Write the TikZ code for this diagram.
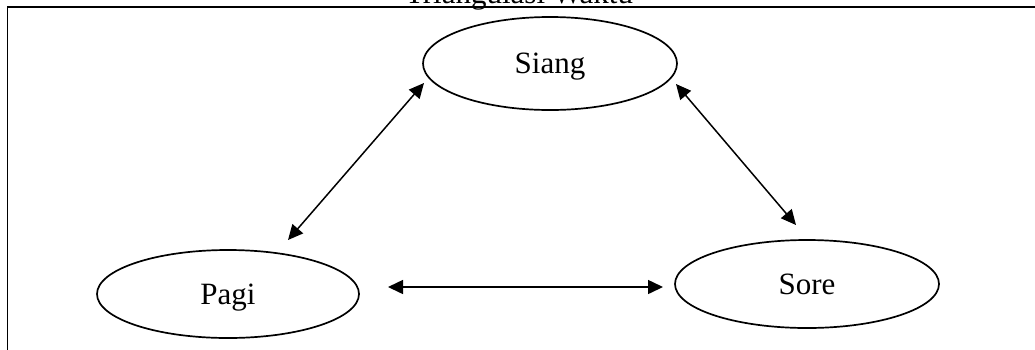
\documentclass[tikz,border=0pt]{standalone}
\usepackage{fontspec}
\setmainfont{Liberation Serif}
\usetikzlibrary{shapes.geometric,arrows.meta}
\tikzset{
  oval/.style={draw, ellipse, line width=1.7pt, inner sep=0pt,
    minimum width=#1, minimum height=90pt,
    font=\fontsize{31}{37}\selectfont, text height=20pt, text depth=0pt},
  arr/.style={line width=1.5pt, {Triangle[length=15pt,width=14pt]}-{Triangle[length=15pt,width=14pt]}},
  frame/.style={line width=1.6pt},
  titletext/.style={font=\fontsize{31}{37}\selectfont, anchor=base, inner sep=0pt}
}
\begin{document}
\begin{tikzpicture}[x=1pt,y=-1pt]
\useasboundingbox (0,0) rectangle (1035,349);
\clip (0,0) rectangle (1035,349);
\node[titletext] (title) at (519,3.5) {Triangulasi Waktu};
\draw[frame] (7.5,360) -- (7.5,7) -- (1045,7);
\node[oval=254pt, minimum height=93pt] (siang) at (550,63.5) {Siang};
\node[oval=262pt, minimum height=88pt] (pagi) at (228,294) {Pagi};
\node[oval=264pt, minimum height=88pt] (sore) at (807,284) {Sore};
\draw[arr] ([shift={(-126,19.5)}]siang.center) -- ([shift={(60,-54)}]pagi.center);
\draw[arr] ([shift={(126,20.5)}]siang.center) -- ([shift={(-11,-59)}]sore.center);
\draw[arr] ([shift={(160,-7)}]pagi.center) -- ([shift={(-144,3)}]sore.center);
\end{tikzpicture}
\end{document}
